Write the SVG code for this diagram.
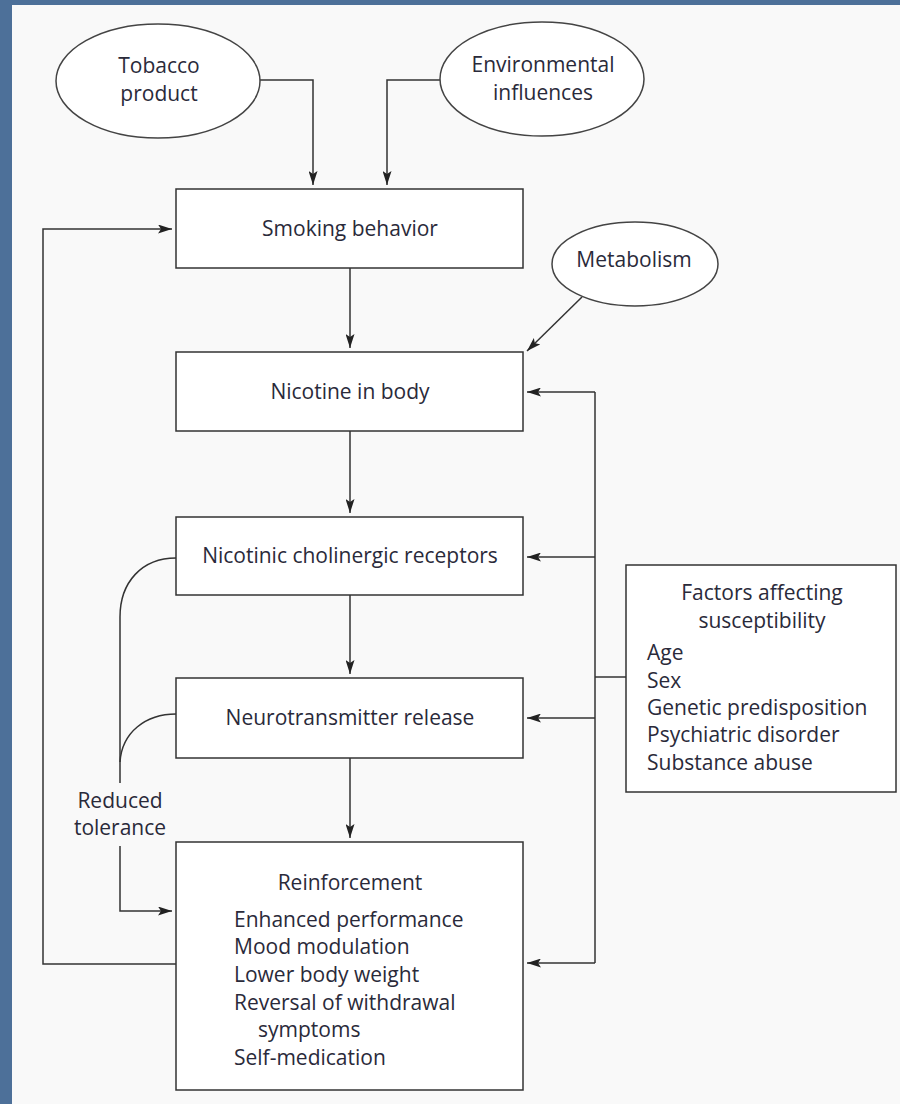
<svg xmlns="http://www.w3.org/2000/svg" width="900" height="1104" viewBox="0 0 900 1104">
<defs>
<marker id="ah" viewBox="0 0 14 9" refX="14" refY="4.5" markerWidth="14" markerHeight="9" markerUnits="userSpaceOnUse" orient="auto">
<path d="M0,0 L14,4.5 L0,9 L3,4.5 Z" fill="#222"/>
</marker>
</defs>
<style>
.box{fill:#fff;stroke:#333;stroke-width:1.5}
.ell{fill:#fff;stroke:#444;stroke-width:1.5}
.ln{fill:none;stroke:#333;stroke-width:1.5}
.arr{fill:none;stroke:#333;stroke-width:1.5;marker-end:url(#ah)}
.t{font-family:"Open Sans",Lato,"Liberation Sans",sans-serif;font-size:21px;fill:#2a2a3a}
.c{text-anchor:middle}
</style>
<rect x="0" y="0" width="900" height="1104" fill="#4d7099"/>
<rect x="12" y="5" width="888" height="1099" fill="#f9f9f9"/>

<g id="connectors">
<path class="arr" d="M260,80 H313 V185"/>
<path class="arr" d="M441,80 H387 V185"/>
<path class="arr" d="M350,268 V348"/>
<path class="arr" d="M582,297 L527,351"/>
<path class="arr" d="M350,431 V513"/>
<path class="arr" d="M350,595 V674"/>
<path class="arr" d="M350,758 V838"/>
<path class="ln" d="M595,392 V963"/>
<path class="ln" d="M595,677 H626"/>
<path class="arr" d="M595,392 H527"/>
<path class="arr" d="M595,557 H527"/>
<path class="arr" d="M595,718 H527"/>
<path class="arr" d="M595,963 H527"/>
<path class="arr" d="M176,964 H43 V229 H172"/>
<path class="ln" d="M176,558 C142,558 120,582 120,617 V783"/>
<path class="ln" d="M176,714 C146,714 122,732 120,762"/>
<path class="arr" d="M120,846 V911 H172"/>
</g>

<g id="tobacco">
<ellipse class="ell" cx="158" cy="81" rx="102" ry="57"/>
<text class="t c" x="159" y="73">Tobacco</text>
<text class="t c" x="159" y="101">product</text>
</g>
<g id="environmental">
<ellipse class="ell" cx="542" cy="79" rx="102" ry="57"/>
<text class="t c" x="543" y="72">Environmental</text>
<text class="t c" x="543" y="100">influences</text>
</g>
<g id="metabolism">
<ellipse class="ell" cx="635" cy="264" rx="83" ry="42"/>
<text class="t c" x="634" y="267">Metabolism</text>
</g>
<g id="smoking">
<rect class="box" x="176" y="189" width="347" height="79"/>
<text class="t c" x="350" y="236">Smoking behavior</text>
</g>
<g id="nicotine">
<rect class="box" x="176" y="352" width="347" height="79"/>
<text class="t c" x="350" y="399">Nicotine in body</text>
</g>
<g id="receptors">
<rect class="box" x="176" y="517" width="347" height="78"/>
<text class="t c" x="350" y="563">Nicotinic cholinergic receptors</text>
</g>
<g id="neurotransmitter">
<rect class="box" x="176" y="678" width="347" height="80"/>
<text class="t c" x="350" y="725">Neurotransmitter release</text>
</g>
<g id="reinforcement">
<rect class="box" x="176" y="842" width="347" height="248"/>
<text class="t c" x="350" y="890">Reinforcement</text>
<text class="t" x="234" y="927">Enhanced performance</text>
<text class="t" x="234" y="954">Mood modulation</text>
<text class="t" x="234" y="982">Lower body weight</text>
<text class="t" x="234" y="1010">Reversal of withdrawal</text>
<text class="t" x="258" y="1037">symptoms</text>
<text class="t" x="234" y="1065">Self-medication</text>
</g>
<g id="factors">
<rect class="box" x="626" y="565" width="270" height="227"/>
<text class="t c" x="762" y="600">Factors affecting</text>
<text class="t c" x="762" y="628">susceptibility</text>
<text class="t" x="647" y="660">Age</text>
<text class="t" x="647" y="688">Sex</text>
<text class="t" x="647" y="715">Genetic predisposition</text>
<text class="t" x="647" y="742">Psychiatric disorder</text>
<text class="t" x="647" y="770">Substance abuse</text>
</g>
<g id="reduced-tolerance">
<text class="t c" x="120" y="808">Reduced</text>
<text class="t c" x="120" y="835">tolerance</text>
</g>
</svg>
